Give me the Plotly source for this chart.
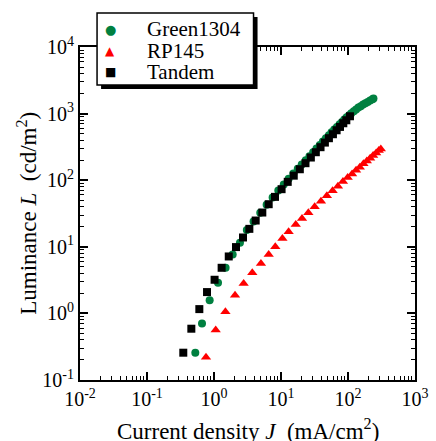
import plotly.graph_objects as go

# Green1304
green_J = [0.526, 0.662, 0.861, 1.148, 1.49, 1.90, 2.44, 3.09, 3.89, 4.90, 6.10, 7.50, 9.12,
           11.0, 13.0, 15.3, 17.8, 20.4, 23.4, 26.6, 30.2, 33.9, 38.0, 42.2, 46.8, 51.9, 56.9,
           62.4, 68.4, 75.0, 81.3, 88.1, 95.5, 104, 112, 122, 132, 143, 155, 168, 182, 197,
           214, 232, 240]
green_L = [0.257, 0.708, 1.57, 2.88, 4.84, 7.67, 11.5, 17.8, 24.0, 32.4, 42.7, 55.0, 70.0,
           86.1, 105, 126, 148, 172, 200, 229, 263, 299, 339, 380, 427, 473, 525,
           575, 631, 692, 750, 813, 881, 944, 1012, 1084, 1148, 1230, 1288, 1365, 1429, 1496,
           1567, 1641, 1679]

# RP145
red_J = [0.760, 1.06, 1.48, 2.06, 2.77, 3.73, 5.02, 6.55, 8.22, 10.5, 13.0, 16.6, 20.6,
         25.6, 31.8, 39.5, 48.4, 58.9, 70.8, 84.1, 98.9, 115, 132, 150, 170, 191, 214,
         237, 263, 288, 309]
red_L = [0.219, 0.562, 1.06, 1.88, 2.82, 4.07, 5.62, 7.67, 10.0, 13.3, 16.8, 21.6, 26.6,
         32.4, 39.8, 48.4, 58.2, 69.2, 81.3, 95.5, 110, 124, 141, 157, 176, 195, 214,
         234, 257, 279, 295]

# Tandem
tandem_J = [0.348, 0.459, 0.604, 0.787, 1.02, 1.30, 1.66, 2.13, 2.71, 3.37, 4.19, 5.26, 6.55,
            8.13, 10.2, 12.6, 15.5, 19.1, 23.2, 27.9, 33.1, 38.9, 45.2, 51.9, 59.6, 67.6,
            75.9, 85.1, 94.4, 107]
tandem_L = [0.257, 0.589, 1.16, 2.09, 3.2, 4.84, 7.16, 9.9, 13.8, 18.6, 24.8, 32.7, 43.6,
            56.2, 73.3, 94.4, 117, 146, 180, 219, 263, 313, 367, 427, 490, 562,
            631, 716, 794, 912]

series_names = ["Green1304", "RP145", "Tandem"]
series_colors = ["#008040", "#ff0000", "#000000"]
series_symbols = ["circle", "triangle-up", "square"]
legend_glyphs = ["\u25CF", "\u25B2", "\u25A0"]
legend_glyph_sizes = [13, 12, 12]

x_tickvals = [0.01, 0.1, 1, 10, 100, 1000]
x_ticktext = ["10<sup>-2</sup>", "10<sup>-1</sup>", "10<sup>0</sup>", "10<sup>1</sup>",
              "10<sup>2</sup>", "10<sup>3</sup>"]
y_tickvals = [0.1, 1, 10, 100, 1000, 10000]
y_ticktext = ["10<sup>-1</sup>", "10<sup>0</sup>", "10<sup>1</sup>", "10<sup>2</sup>",
              "10<sup>3</sup>", "10<sup>4</sup>"]

FONT = "serif"

def minor_vals(lo_exp, hi_exp):
    vals = []
    for e in range(lo_exp, hi_exp):
        for m in range(2, 10):
            vals.append(m * 10 ** e)
    return vals

fig = go.Figure()
for name, xs, ys, col, sym, sz in zip(series_names, [green_J, red_J, tandem_J],
                                      [green_L, red_L, tandem_L], series_colors,
                                      series_symbols, [8, 9, 8]):
    fig.add_trace(go.Scatter(x=xs, y=ys, mode="markers", name=name, showlegend=False,
                             marker=dict(symbol=sym, size=sz, color=col)))

axis_common = dict(
    type="log", showgrid=False, zeroline=False,
    showline=True, linecolor="black", linewidth=2, mirror="allticks",
    ticks="inside", ticklen=8, tickwidth=1.5, tickcolor="black",
    tickfont=dict(family=FONT, size=20, color="black"),
)

fig.update_xaxes(
    **axis_common,
    range=[-2, 3],
    tickmode="array", tickvals=x_tickvals, ticktext=x_ticktext,
    minor=dict(tickmode="array", tickvals=minor_vals(-2, 3), ticks="inside",
               ticklen=4, tickwidth=1, tickcolor="black", showgrid=False),
)
fig.update_yaxes(
    **axis_common,
    range=[-1, 4],
    tickmode="array", tickvals=y_tickvals, ticktext=y_ticktext,
    minor=dict(tickmode="array", tickvals=minor_vals(-1, 4), ticks="inside",
               ticklen=4, tickwidth=1, tickcolor="black", showgrid=False),
)

# axis titles
fig.add_annotation(xref="paper", yref="paper", x=0.5, y=-0.150, xanchor="center",
                   yanchor="middle", showarrow=False,
                   text="Current density <i>J</i>  (mA/cm<sup>2</sup>)",
                   font=dict(family=FONT, size=23, color="black"))
fig.add_annotation(xref="paper", yref="paper", x=-0.159, y=0.5015, xanchor="center",
                   yanchor="middle", showarrow=False, textangle=-90,
                   text="Luminance <i>L</i>  (cd/m<sup>2</sup>)",
                   font=dict(family=FONT, size=23, color="black"))

# legend: shadow + box
fig.add_shape(type="rect", xref="paper", yref="paper",
              x0=0.0629, x1=0.530, y0=0.874, y1=1.090,
              fillcolor="black", line=dict(width=0), layer="above")
fig.add_shape(type="rect", xref="paper", yref="paper",
              x0=0.0509, x1=0.518, y0=0.886, y1=1.102,
              fillcolor="white", line=dict(width=1.5, color="black"), layer="above")

legend_rows_y = [1.054, 0.988, 0.925]
for name, col, glyph, gsz, ry in zip(series_names, series_colors, legend_glyphs,
                                     legend_glyph_sizes, legend_rows_y):
    fig.add_annotation(xref="paper", yref="paper", x=0.0898, y=ry, xanchor="center",
                       yanchor="middle", showarrow=False, text=glyph,
                       font=dict(family="DejaVu Sans", size=gsz, color=col))
    fig.add_annotation(xref="paper", yref="paper", x=0.195, y=ry, xanchor="left",
                       yanchor="middle", showarrow=False, text=name,
                       font=dict(family=FONT, size=21, color="black"))

fig.update_layout(
    width=436, height=441,
    margin=dict(l=80, r=21, t=47, b=61, autoexpand=False),
    paper_bgcolor="white", plot_bgcolor="white",
    font=dict(family=FONT, size=20, color="black"),
    showlegend=False,
)

fig.write_html("out.html", config={"displayModeBar": False},
               post_script="document.body.style.margin='0px';document.body.style.overflow='hidden';")
